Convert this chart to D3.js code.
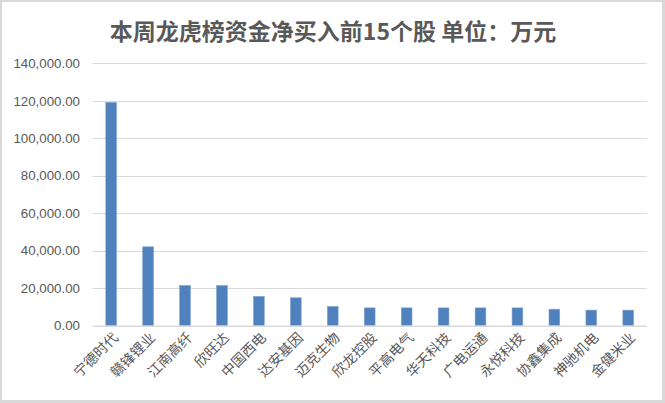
<!DOCTYPE html>
<html><head><meta charset="utf-8">
<script src="https://cdn.jsdelivr.net/npm/d3@7"></script>
<style>html,body{margin:0;padding:0;background:#fff;}svg{display:block;}</style>
</head><body>
<script>
const title = "本周龙虎榜资金净买入前15个股 单位：万元";
const categories = ["宁德时代","赣锋锂业","江南高纤","欣旺达","中国西电","达安基因","迈克生物","欣龙控股","平高电气","华天科技","广电运通","永悦科技","协鑫集成","神驰机电","金健米业"];
const values = [119100,42000,21300,21300,15500,14800,10100,9400,9400,9400,9400,9400,8700,8200,8200];
const yTicks = [0,20000,40000,60000,80000,100000,120000,140000];

const W = 665, H = 403;
const svg = d3.select("body").append("svg").attr("width", W).attr("height", H);
svg.append("rect").attr("width", W).attr("height", H).attr("fill", "#d9d9d9");
svg.append("rect").attr("x", 2).attr("y", 2).attr("width", 660).attr("height", 398).attr("fill", "#fff");

const x = d3.scaleBand().domain(categories).range([92.7, 646.7]).paddingInner(0.71).paddingOuter(0.355);
const y = d3.scaleLinear().domain([0, 140000]).range([325.5, 63.3]);

// gridlines
svg.append("g").selectAll("line").data(yTicks).join("line")
  .attr("x1", 92.7).attr("x2", 646.7)
  .attr("y1", d => Math.round(y(d)) + 0.5).attr("y2", d => Math.round(y(d)) + 0.5)
  .attr("stroke", "#d9d9d9").attr("stroke-width", 1);

// y axis labels
const yAxis = d3.axisLeft(y).tickValues(yTicks).tickSize(0).tickPadding(0)
  .tickFormat(d3.format(",.2f"));
const ya = svg.append("g").attr("transform", "translate(80,0)").call(yAxis);
ya.select(".domain").remove();
ya.selectAll("text").attr("fill", "#595959").attr("font-family", "'Liberation Sans', Arial, sans-serif").attr("font-size", 13.3);

// bars
svg.append("g").selectAll("rect").data(values).join("rect")
  .attr("x", (d, i) => x(categories[i]))
  .attr("width", x.bandwidth())
  .attr("y", d => y(d))
  .attr("height", d => y(0) - y(d))
  .attr("fill", "#4f81bd")
  .attr("stroke", "#7aa0d0").attr("stroke-width", 0.6);

// x axis
const xAxis = d3.axisBottom(x).tickSize(0).tickPadding(0);
const xa = svg.append("g").attr("transform", `translate(0,${y(0)})`).call(xAxis);
xa.select(".domain").attr("stroke", "#d9d9d9");
xa.selectAll("text")
  .attr("fill", "#595959")
  .attr("font-family", "'Noto Sans CJK SC', sans-serif")
  .attr("font-size", 14)
  .attr("text-anchor", "end")
  .attr("dy", null)
  .attr("transform", "translate(8,13) rotate(-45)");

// title
svg.append("text").attr("x", 333).attr("y", 40).attr("text-anchor", "middle")
  .attr("fill", "#595959").attr("font-family", "'Noto Sans CJK SC', sans-serif")
  .attr("font-weight", "bold").attr("font-size", 23).text(title);
</script>
</body></html>
